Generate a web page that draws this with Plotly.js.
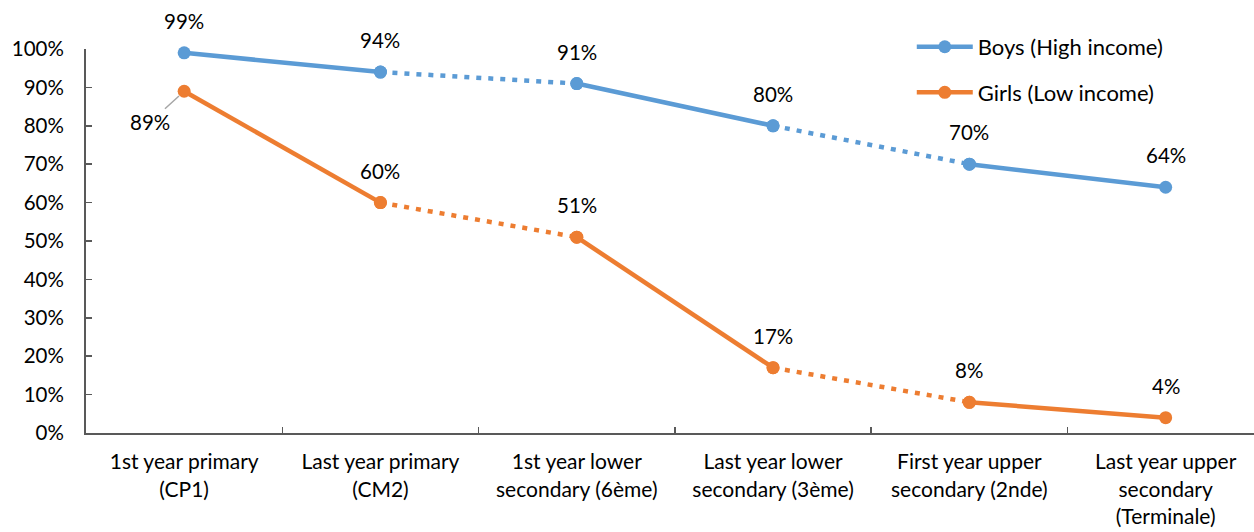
<!DOCTYPE html>
<html>
<head>
<meta charset="utf-8">
<script src="https://cdn.plot.ly/plotly-3.0.1.min.js"></script>
<style>
  html, body { margin: 0; padding: 0; background: #fff; }
  #chart { width: 1254px; height: 532px; }
</style>
</head>
<body>
<div id="chart"></div>
<script>
// School grades, from first year of primary to the final year of upper secondary
const categories = [
  '1st year primary<br>(CP1)',
  'Last year primary<br>(CM2)',
  '1st year lower<br>secondary (6ème)',
  'Last year lower<br>secondary (3ème)',
  'First year upper<br>secondary (2nde)',
  'Last year upper<br>secondary<br>(Terminale)'
];

// Share of children reaching each grade (%)
const boysHighIncome = [99, 94, 91, 80, 70, 64];
const girlsLowIncome = [89, 60, 51, 17, 8, 4];

// Line style of each step between consecutive grades
const stepStyles = ['solid', 'dot', 'solid', 'dot', 'solid'];

const series = [
  { name: 'Boys (High income)', values: boysHighIncome, color: '#5B9BD5' },
  { name: 'Girls (Low income)', values: girlsLowIncome, color: '#ED7D31' }
];

const FONT = 'Lato, "Open Sans", sans-serif';
const AXIS_COLOR = '#595959';

const traces = [];
const annotations = [];

series.forEach((s, si) => {
  stepStyles.forEach((style, i) => {
    traces.push({
      type: 'scatter',
      x: [categories[i], categories[i + 1]],
      y: [s.values[i], s.values[i + 1]],
      mode: 'lines+markers',
      name: s.name,
      legendgroup: s.name,
      legendrank: si + 1,
      showlegend: i === 0,
      line: { color: s.color, width: 4.5, dash: style === 'dot' ? '5px,7px' : 'solid' },
      marker: { color: s.color, size: 13 },
      hoverinfo: 'x+y',
      cliponaxis: false
    });
  });

  s.values.forEach((v, i) => {
    const label = { x: categories[i], y: v, text: v + '%', font: { family: FONT, size: 20.5, color: '#000' } };
    if (si === 1 && i === 0) {
      // first girls' label sits below-left, tied to its point by a leader line
      Object.assign(label, {
        showarrow: true, arrowhead: 0, arrowwidth: 1.5, arrowcolor: '#A6A6A6',
        ax: -34, ay: 31, standoff: 7
      });
    } else {
      Object.assign(label, { showarrow: false, yshift: 32 });
    }
    annotations.push(label);
  });
});

const layout = {
  width: 1254,
  height: 532,
  margin: { l: 86, r: 0, t: 49, b: 99 },
  paper_bgcolor: '#fff',
  plot_bgcolor: '#fff',
  font: { family: FONT, size: 20, color: '#000' },
  showlegend: true,
  legend: {
    x: 0.707, xanchor: 'left',
    y: 1.06, yanchor: 'top',
    bgcolor: 'rgba(0,0,0,0)',
    traceorder: 'grouped',
    tracegroupgap: 14,
    itemwidth: 56,
    font: { family: FONT, size: 22, color: '#000' }
  },
  xaxis: {
    type: 'category',
    categoryorder: 'array',
    categoryarray: categories,
    range: [-0.5, 5.45],
    showgrid: false,
    zeroline: false,
    showline: true,
    linecolor: AXIS_COLOR,
    linewidth: 2,
    ticks: 'inside',
    ticklen: 6,
    tickwidth: 1.5,
    tickson: 'boundaries',
    tickcolor: AXIS_COLOR,
    ticklabelstandoff: 9,
    tickfont: { family: FONT, size: 21, color: '#000' },
    fixedrange: true
  },
  yaxis: {
    range: [0, 100],
    dtick: 10,
    tick0: 0,
    ticksuffix: '%',
    showgrid: false,
    zeroline: false,
    showline: true,
    linecolor: AXIS_COLOR,
    linewidth: 2,
    ticks: 'inside',
    ticklen: 6,
    tickwidth: 1.5,
    tickcolor: AXIS_COLOR,
    ticklabelstandoff: 16,
    tickfont: { family: FONT, size: 20.5, color: '#000' },
    fixedrange: true
  },
  annotations: annotations
};

Plotly.newPlot('chart', traces, layout, { displayModeBar: false, staticPlot: true });
</script>
</body>
</html>
